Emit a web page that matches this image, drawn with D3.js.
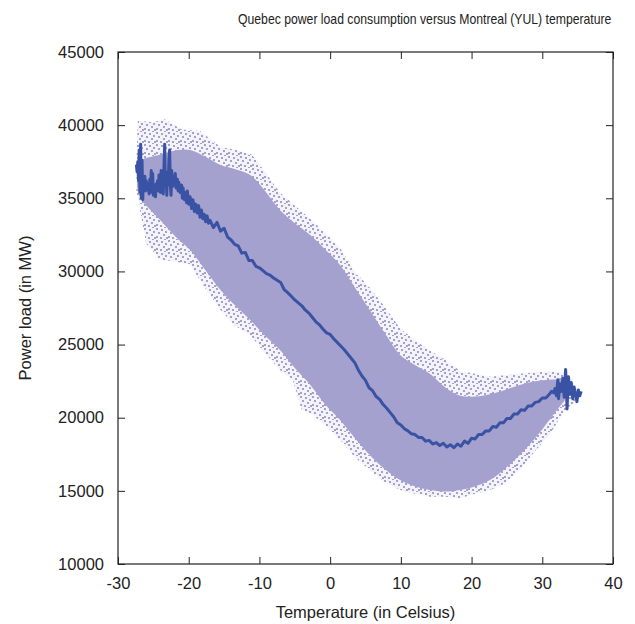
<!DOCTYPE html>
<html lang="en">
<head>
  <meta charset="UTF-8">
  <title>Quebec power load vs Montreal temperature</title>
  <script src="https://d3js.org/d3.v7.min.js"></script>
  <style>
    body { margin: 0; background: #fff; }
    svg { display: block; font-family: "Liberation Sans", Arial, sans-serif; }
  </style>
</head>
<body>
  <div id="chart"></div>
  <script>
    const width = 635, height = 624;

    // axis ticks
    const xTicks = [-30, -20, -10, 0, 10, 20, 30, 40];
    const yTicks = [10000, 15000, 20000, 25000, 30000, 35000, 40000, 45000];

    // average load per temperature
    const meanTemp = [
      -27.4, -27.3, -27.2, -27.1, -27.0, -26.9, -26.8, -26.7, -26.6, -26.5, -26.4, -26.3, -26.2, -26.1, -26.0,
      -25.9, -25.8, -25.6, -25.5, -25.4, -25.3, -25.2, -25.1, -25.0, -24.8, -24.7, -24.6, -24.5, -24.4, -24.3,
      -24.2, -24.0, -23.9, -23.8, -23.7, -23.6, -23.5, -23.4, -23.3, -23.2, -23.1, -23.0, -22.9, -22.8, -22.7,
      -22.6, -22.5, -22.4, -22.3, -22.2, -22.0, -21.9, -21.8, -21.6, -21.5, -21.4, -21.2, -21.0, -20.9, -20.8,
      -20.6, -20.4, -20.3, -20.2, -20.0, -19.8, -19.6, -19.4, -19.2, -19.0, -18.8, -18.6, -18.4, -18.2, -18.0,
      -17.8, -17.6, -17.4, -17.2, -17.0, -16.5, -16.0, -15.5, -15.0, -14.5, -14.0, -13.5, -13.0, -12.5, -12.0,
      -11.5, -11.0, -10.5, -10.0, -9.5, -9.0, -8.5, -8.0, -7.5, -7.0, -6.5, -6.0, -5.5, -5.0, -4.5,
      -4.0, -3.5, -3.0, -2.5, -2.0, -1.5, -1.0, -0.5, 0.0, 0.5, 1.0, 1.5, 2.0, 2.5, 3.0,
      3.5, 4.0, 4.5, 5.0, 5.5, 6.0, 6.5, 7.0, 7.5, 8.0, 8.5, 9.0, 9.5, 10.0, 10.5,
      11.0, 11.5, 12.0, 12.5, 13.0, 13.5, 14.0, 14.5, 15.0, 15.5, 16.0, 16.5, 17.0, 17.5, 18.0,
      18.5, 19.0, 19.5, 20.0, 20.5, 21.0, 21.5, 22.0, 22.5, 23.0, 23.5, 24.0, 24.5, 25.0, 25.5,
      26.0, 26.5, 27.0, 27.5, 28.0, 28.5, 29.0, 29.5, 30.0, 30.5, 31.0, 31.3, 31.6, 31.8, 32.0,
      32.2, 32.3, 32.5, 32.7, 32.9, 33.1, 33.3, 33.4, 33.5, 33.7, 33.9, 34.1, 34.3, 34.5, 34.7,
      34.9, 35.1, 35.3, 35.5
    ];
    const meanLoad = [
      37300, 36800, 37500, 36200, 38300, 35400, 38700, 35000, 37600, 34900, 36400, 35900, 36500, 35500, 36200,
      35700, 36000, 35300, 36300, 35600, 36900, 35400, 36700, 35200, 35800, 35100, 36000, 35600, 36200, 35500,
      36600, 35400, 36900, 35800, 36400, 35300, 37100, 38700, 35900, 36600, 35200, 36800, 35900, 37600, 38300,
      36000, 35200, 36900, 35800, 36500, 35900, 36700, 35700, 36300, 35500, 36100, 35400, 35900, 35000, 35700,
      34900, 35400, 34700, 35500, 34600, 35100, 34300, 34900, 34100, 34600, 34000, 34500, 33700, 34200, 33600,
      33900, 33400, 33800, 33300, 33500, 33000, 33350, 32750, 32950, 32350, 32150, 31850, 31750, 31250, 31300,
      30750, 30750, 30350, 30250, 30050, 29850, 29750, 29550, 29400, 29250, 28750, 28550, 28300, 28050, 27850,
      27650, 27350, 27150, 26850, 26550, 26350, 26050, 25800, 25700, 25400, 25150, 24900, 24650, 24350, 24050,
      23750, 23250, 22850, 22550, 22050, 21850, 21450, 21250, 20900, 20650, 20350, 20050, 19650, 19500, 19250,
      19100, 18900, 18850, 18650, 18650, 18400, 18450, 18200, 18300, 18100, 18250, 18000, 18150, 17950, 18200,
      18050, 18400, 18250, 18600, 18550, 18850, 18850, 19100, 19100, 19400, 19350, 19650, 19650, 19950, 19950,
      20250, 20250, 20550, 20500, 20800, 20800, 21050, 21100, 21350, 21350, 21600, 21800, 21700, 22000, 21500,
      22600, 21300, 22300, 21800, 22700, 21400, 23300, 22200, 20600, 22800, 21600, 22400, 21300, 22100, 21600,
      21100, 21900, 21500, 21800
    ];

    // outer edge of the scatter cloud (where the sparse points stop)
    const outerTopT = [-27.4, -27.2, -25.0, -23.4, -21.0, -18.4, -15.5, -13.3, -11.1, -9.5, -7.1, -5.0, -2.8, 0.0, 1.4, 3.5, 5.6, 7.7, 9.9, 12.0, 14.1, 16.2, 18.4, 20.5, 22.6, 24.7, 26.8, 29.0, 31.0, 33.2, 34.4, 35.1];
    const outerTopV = [37500, 40300, 40200, 40400, 39700, 39600, 38500, 38300, 38000, 37000, 35400, 34500, 33600, 32300, 31600, 30000, 28900, 27600, 26100, 25300, 24600, 24000, 23200, 23000, 22800, 22900, 23000, 23100, 23150, 23100, 22300, 21800];
    const outerBotT = [35.1, 33.2, 31.0, 28.8, 26.8, 24.7, 22.6, 20.5, 18.4, 16.2, 14.1, 12.0, 9.9, 7.7, 5.6, 3.5, 1.4, -0.7, -2.8, -4.0, -5.3, -7.1, -9.2, -11.3, -13.5, -15.5, -17.6, -19.8, -22.0, -24.0, -26.0, -27.4];
    const outerBotV = [21300, 20500, 18840, 17600, 16430, 15500, 15060, 14800, 14500, 14600, 14600, 14800, 15060, 15600, 16430, 17300, 18480, 19500, 20300, 20530, 22600, 23260, 24400, 25650, 26300, 27360, 28800, 30440, 30700, 30780, 31900, 35500];

    // dense core of the scatter cloud
    const denseT = [-27.3, -26.8, -24.0, -21.5, -19.8, -17.5, -15.5, -13.5, -11.3, -9.2, -7.1, -5.0, -2.8, -0.7, 1.4, 3.5, 5.6, 7.7, 9.9, 12.0, 14.1, 16.2, 18.4, 20.5, 22.6, 24.7, 26.8, 29.0, 31.0, 32.2, 33.2];
    const denseHigh = [37300, 37600, 38000, 38300, 38300, 37800, 37270, 37000, 36590, 35500, 34200, 33300, 32490, 31500, 30440, 28900, 27360, 25800, 24290, 23600, 23000, 22100, 21500, 21450, 21600, 21900, 22240, 22500, 22600, 22600, 22500];
    const denseLow = [35800, 35000, 33500, 32200, 31460, 30000, 28730, 27700, 26680, 25600, 24630, 23400, 22240, 20900, 19840, 18600, 17450, 16500, 15740, 15300, 15060, 14950, 15060, 15300, 15740, 16500, 17450, 18600, 19840, 20600, 21200];

    const cloudColor = "#a5a1cf";
    const lineColor = "#3952a4";

    const x = d3.scaleLinear().domain([-30, 40]).range([118, 613]);
    const y = d3.scaleLinear().domain([10000, 45000]).range([564, 52]);

    const svg = d3.select("#chart").append("svg")
      .attr("width", width)
      .attr("height", height);

    // speckled fill for the sparse fringe of the cloud
    const pat = svg.append("defs").append("pattern")
      .attr("id", "sparse")
      .attr("patternUnits", "userSpaceOnUse")
      .attr("width", 12)
      .attr("height", 12);
    pat.append("rect").attr("width", 12).attr("height", 12)
      .attr("fill", cloudColor).attr("opacity", 0.12);
    [[0, 0], [5, 1], [9, 3], [2, 4], [7, 6], [0, 8], [4, 9], [10, 9], [8, 11]].forEach(p => {
      pat.append("rect").attr("x", p[0]).attr("y", p[1])
        .attr("width", 2).attr("height", 2).attr("fill", cloudColor);
    });

    const outline = d3.line().x(d => x(d[0])).y(d => y(d[1])).curve(d3.curveLinearClosed);

    const outerPts = outerTopT.map((t, i) => [t, outerTopV[i]])
      .concat(outerBotT.map((t, i) => [t, outerBotV[i]]));

    svg.append("path")
      .attr("d", outline(outerPts))
      .attr("fill", "url(#sparse)");

    const denseArea = d3.area()
      .x((d, i) => x(denseT[i]))
      .y0((d, i) => y(denseLow[i]))
      .y1((d, i) => y(denseHigh[i]))
      .curve(d3.curveCatmullRom);

    svg.append("path")
      .attr("d", denseArea(denseT))
      .attr("fill", cloudColor);

    // mean line
    const meanLine = d3.line()
      .x((d, i) => x(meanTemp[i]))
      .y((d, i) => y(meanLoad[i]));

    svg.append("path")
      .attr("d", meanLine(meanTemp))
      .attr("fill", "none")
      .attr("stroke", lineColor)
      .attr("stroke-width", 3)
      .attr("stroke-linejoin", "round");

    // axes, gnuplot style: ticks inside, mirrored on top and right
    const fmt = d => String(d);
    svg.append("g")
      .attr("transform", `translate(0,${y(10000)})`)
      .call(d3.axisBottom(x).tickValues(xTicks).tickSize(-7).tickPadding(13).tickFormat(fmt));
    svg.append("g")
      .attr("transform", `translate(${x(-30)},0)`)
      .call(d3.axisLeft(y).tickValues(yTicks).tickSize(-7).tickPadding(14).tickFormat(fmt));
    svg.append("g")
      .attr("transform", `translate(0,${y(45000)})`)
      .call(d3.axisTop(x).tickValues(xTicks).tickSize(-7).tickFormat(""));
    svg.append("g")
      .attr("transform", `translate(${x(40)},0)`)
      .call(d3.axisRight(y).tickValues(yTicks).tickSize(-7).tickFormat(""));

    svg.selectAll(".domain").remove();
    svg.selectAll(".tick line").attr("stroke", "#222");
    svg.selectAll(".tick text")
      .attr("font-family", "'Liberation Sans', Arial, sans-serif")
      .attr("font-size", 16.5)
      .attr("fill", "#222");

    svg.append("rect")
      .attr("x", x(-30))
      .attr("y", y(45000))
      .attr("width", x(40) - x(-30))
      .attr("height", y(10000) - y(45000))
      .attr("fill", "none")
      .attr("stroke", "#222")
      .attr("stroke-width", 1.2);

    // title is set in a narrow face: squeeze it horizontally
    svg.append("text")
      .attr("transform", "translate(238,24) scale(0.815,1)")
      .attr("font-size", 15)
      .attr("fill", "#222")
      .text("Quebec power load consumption versus Montreal (YUL) temperature");

    svg.append("text")
      .attr("x", (x(-30) + x(40)) / 2)
      .attr("y", 618)
      .attr("text-anchor", "middle")
      .attr("font-size", 16.5)
      .attr("fill", "#222")
      .text("Temperature (in Celsius)");

    svg.append("text")
      .attr("transform", `translate(31,${(y(10000) + y(45000)) / 2}) rotate(-90)`)
      .attr("text-anchor", "middle")
      .attr("font-size", 16.5)
      .attr("fill", "#222")
      .text("Power load (in MW)");
  </script>
</body>
</html>
